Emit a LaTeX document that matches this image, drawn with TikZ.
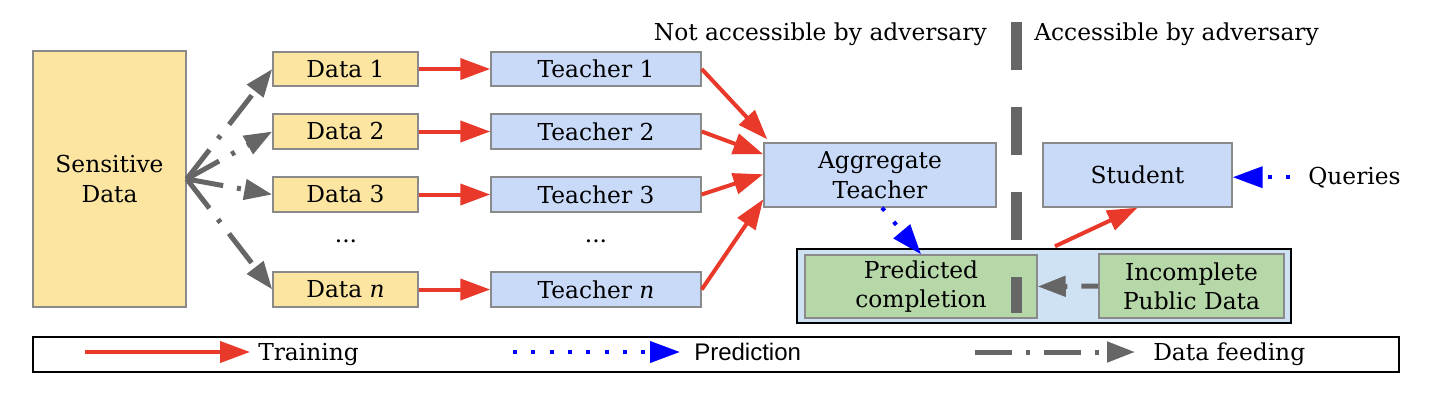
\documentclass[tikz,border=0pt]{standalone}
\usepackage{fontspec}
\setmainfont{DejaVu Serif}
\newfontfamily\legsans{Liberation Sans}
\usetikzlibrary{arrows.meta,calc}
\definecolor{yel}{HTML}{FBE5A0}
\definecolor{bluebox}{HTML}{C9DAF8}
\definecolor{greenbox}{HTML}{B6D7A8}
\definecolor{pubfill}{HTML}{CFE2F3}
\definecolor{redarr}{HTML}{E8392A}
\definecolor{grayarr}{HTML}{666666}
\definecolor{bordergray}{HTML}{8A8A8A}
\begin{document}
\begin{tikzpicture}[x=0.75pt,y=-0.75pt,
  font=\fontsize{17.5}{22}\selectfont,
  wh/.style 2 args={minimum width=#1*0.75pt, minimum height=#2*0.75pt},
  basebox/.style={draw=bordergray, line width=1.1pt, inner sep=0pt, align=center},
  databox/.style={basebox, fill=yel},
  teachbox/.style={basebox, fill=bluebox},
  pubbox/.style={basebox, fill=greenbox},
  lbl/.style={inner sep=0pt},
  train/.style={draw=redarr, line width=3pt, -{Triangle[length=22.5pt,width=15.75pt]}},
  predict/.style={draw=blue, line width=3pt, dash pattern=on 3pt off 10.75pt, -{Triangle[length=22.5pt,width=15.75pt]}},
  feed/.style={draw=grayarr, line width=3.75pt, dash pattern=on 27.75pt off 10.5pt on 3pt off 10.5pt, -{Triangle[length=21pt,width=15pt]}}
]
\useasboundingbox (0,0) rectangle (1432,404);

% left column
\node[databox, wh={153}{256}] (sens) at (109.5,179) {Sensitive\\Data};
\node[databox, wh={145}{34}] (d1) at (345.5,69) {Data 1};
\node[databox, wh={145}{35}] (d2) at (345.5,131.5) {Data 2};
\node[databox, wh={145}{35}] (d3) at (345.5,194.5) {Data 3};
\node[databox, wh={145}{35}] (dn) at (345.5,289.5) {Data \textit{n}};
\node[lbl] (ddots) at (346,241) {...};

% teachers
\node[teachbox, wh={210}{34}] (t1) at (596,69) {Teacher 1};
\node[teachbox, wh={210}{35}] (t2) at (596,131.5) {Teacher 2};
\node[teachbox, wh={210}{35}] (t3) at (596,194.5) {Teacher 3};
\node[teachbox, wh={210}{35}] (tn) at (596,289.5) {Teacher \textit{n}};
\node[lbl] (tdots) at (596,241) {...};

\node[teachbox, wh={232}{64}] (agg) at (880,175) {Aggregate\\Teacher};
\node[teachbox, wh={189}{64}] (stu) at (1137.5,175) {Student};
\node[lbl, anchor=base west] (q) at (1308,184) {Queries};

% public data group
\node[draw=black, line width=1.1pt, fill=pubfill, inner sep=0pt, wh={494}{74}] (pub) at (1044,286) {};
\node[pubbox, wh={232}{63}] (pred) at (921,286.5) {Predicted\\completion};
\node[pubbox, wh={185}{64}] (inc) at (1191.5,286) {Incomplete\\Public Data};

% divider
\coordinate (divtop) at (1016,22);
\coordinate (divbot) at (1016,313);
\draw[grayarr, line width=8.25pt, dash pattern=on 36pt off 27.75pt] (divtop) -- (divbot);

\node[lbl, anchor=base east] (nacc) at (987,40) {Not accessible by adversary};
\node[lbl, anchor=base west] (acc) at (1034,40) {Accessible by adversary};

% data feeding
\draw[feed] (sens.east) -- (d1.west);
\draw[feed] (sens.east) -- (d2.west);
\draw[feed] (sens.east) -- (d3.west);
\draw[feed] (sens.east) -- (dn.west);
\draw[feed, dash phase=15pt] (inc.west) -- (pred.east);

% training
\draw[train] (d1.east) -- (t1.west);
\draw[train] (d2.east) -- (t2.west);
\draw[train] (d3.east) -- (t3.west);
\draw[train] (dn.east) -- (tn.west);
\draw[train] (t1.east) -- ($(agg.north west)+(4,-3)$);
\draw[train] (t2.east) -- ($(agg.north west)+(0,12)$);
\draw[train] (t3.east) -- ($(agg.north west)+(0,32)$);
\draw[train] (tn.east) -- ($(agg.north west)+(0,57)$);
\draw[train] ($(pub.north)+(11,-2)$) -- (stu.south);

% prediction
\draw[predict] ($(agg.south)+(2,0)$) -- (pred.north);
\draw[predict, shorten <=13.5pt] (q.west) -- (q.west -| stu.east);

% legend
\node[draw=black, line width=1.1pt, inner sep=0pt, wh={1366}{35}] (legend) at (716,354.5) {};
\coordinate (l1s) at (85,352);
\coordinate (l1e) at (250,352);
\draw[train] (l1s) -- (l1e);
\node[lbl, anchor=base west] (ltrain) at (258,360) {Training};
\coordinate (l2s) at (513,352);
\coordinate (l2e) at (680,352);
\draw[predict] (l2s) -- (l2e);
\node[lbl, anchor=base west, font=\legsans\fontsize{18}{22}\selectfont] (lpred) at (694,360) {Prediction};
\coordinate (l3s) at (975,352);
\coordinate (l3e) at (1135,352);
\draw[feed] (l3s) -- (l3e);
\node[lbl, anchor=base west] (lfeed) at (1153,360) {Data feeding};
\end{tikzpicture}
\end{document}
